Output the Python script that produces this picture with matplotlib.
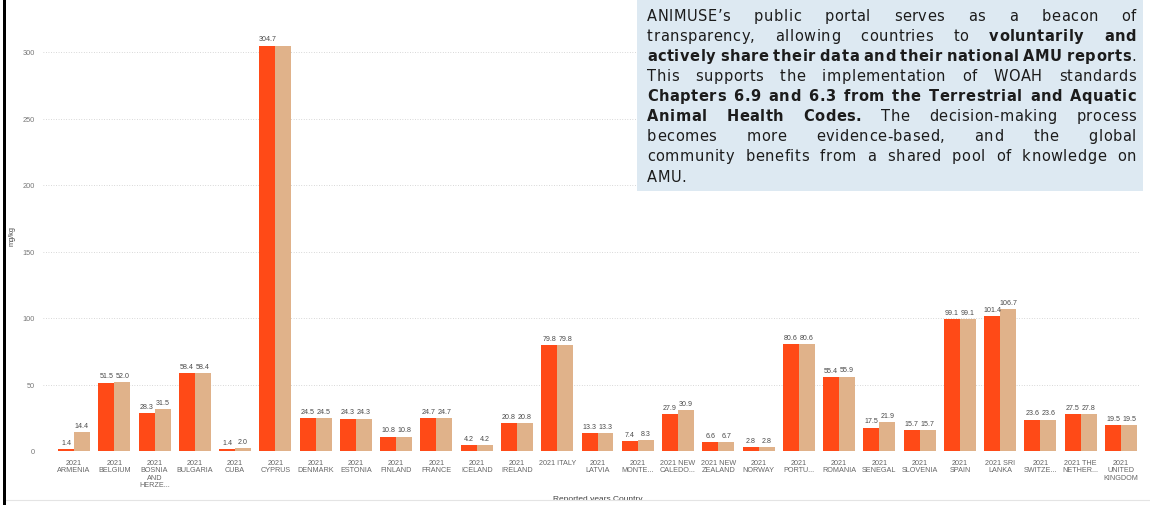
import matplotlib
matplotlib.use("Agg")
import matplotlib.pyplot as plt
from matplotlib.patches import Rectangle
from matplotlib.lines import Line2D
import numpy as np

# ---- data -------------------------------------------------------------
countries = [
    "2021\nARMENIA", "2021\nBELGIUM", "2021\nBOSNIA\nAND\nHERZE...", "2021\nBULGARIA",
    "2021\nCUBA", "2021\nCYPRUS", "2021\nDENMARK", "2021\nESTONIA", "2021\nFINLAND",
    "2021\nFRANCE", "2021\nICELAND", "2021\nIRELAND", "2021 ITALY", "2021\nLATVIA",
    "2021\nMONTE...", "2021 NEW\nCALEDO...", "2021 NEW\nZEALAND", "2021\nNORWAY",
    "2021\nPORTU...", "2021\nROMANIA", "2021\nSENEGAL", "2021\nSLOVENIA", "2021\nSPAIN",
    "2021 SRI\nLANKA", "2021\nSWITZE...", "2021 THE\nNETHER...", "2021\nUNITED\nKINGDOM",
]
series_a = [1.4, 51.5, 28.3, 58.4, 1.4, 304.7, 24.5, 24.3, 10.8, 24.7, 4.2, 20.8, 79.8,
            13.3, 7.4, 27.9, 6.6, 2.8, 80.6, 55.4, 17.5, 15.7, 99.1, 101.4, 23.6, 27.5, 19.5]
series_b = [14.4, 52.0, 31.5, 58.4, 2.0, 304.7, 24.5, 24.3, 10.8, 24.7, 4.2, 20.8, 79.8,
            13.3, 8.3, 30.9, 6.7, 2.8, 80.6, 55.9, 21.9, 15.7, 99.1, 106.7, 23.6, 27.8, 19.5]
# second-series labels that do not fit above the plot area
hidden_b_labels = [5]
y_ticks = [0, 50, 100, 150, 200, 250, 300]

note_lines = [
    [("ANIMUSE\u2019s public portal serves as a beacon of", False)],
    [("transparency, allowing countries to ", False), ("voluntarily and", True)],
    [("actively share their data and their national AMU reports", True), (".", False)],
    [("This supports the implementation of WOAH standards", False)],
    [("Chapters 6.9 and 6.3 from the Terrestrial and Aquatic", True)],
    [("Animal Health Codes.", True), (" The decision-making process", False)],
    [("becomes more evidence-based, and the global", False)],
    [("community benefits from a shared pool of knowledge on", False)],
    [("AMU.", False)],
]

# ---- styling ----------------------------------------------------------
W, H = 1150, 506
ORANGE = "#FF4A17"
TAN = "#E0B28A"
CHART_FONT = "Liberation Sans"
NOTE_FONT = "DejaVu Sans"
NOTE_SIZE = 10.5


def fx(px):
    return px / W


def fy(py):
    return 1 - py / H


fig = plt.figure(figsize=(W / 100, H / 100), dpi=100)
fig.patch.set_facecolor("white")

# plot area in pixel terms
ax_left, ax_right, ax_bottom = 43, 1140, 452
y_top = 320
px_per_unit = 1.33
ax_top = ax_bottom - y_top * px_per_unit
ax = fig.add_axes([fx(ax_left), fy(ax_bottom), (ax_right - ax_left) / W,
                   (ax_bottom - ax_top) / H])
ax.set_facecolor("none")

x = np.arange(len(countries))
step = 40.27
first_center = 74
ax.set_xlim((ax_left - first_center) / step, (ax_right - first_center) / step)
ax.set_ylim(0, y_top)

bw = 0.397
ax.bar(x - bw / 2, series_a, bw, color=ORANGE, linewidth=0, zorder=2)
ax.bar(x + bw / 2, series_b, bw, color=TAN, linewidth=0, zorder=2)

for i, (va_, vb_) in enumerate(zip(series_a, series_b)):
    ax.annotate(f"{va_:.1f}", (x[i] - bw / 2, va_), xytext=(0, 3.8),
                textcoords="offset points", ha="center", va="baseline",
                fontsize=5.1, color="#4a4a4a", family=CHART_FONT, zorder=3)
    if i not in hidden_b_labels:
        ax.annotate(f"{vb_:.1f}", (x[i] + bw / 2, vb_), xytext=(0, 3.8),
                    textcoords="offset points", ha="center", va="baseline",
                    fontsize=5.1, color="#4a4a4a", family=CHART_FONT, zorder=3)

ax.set_yticks(y_ticks)
ax.set_yticklabels([str(t) for t in y_ticks])
ax.set_xticks(x)
ax.set_xticklabels(countries, linespacing=1.1, ha="center", multialignment="center")
ax.tick_params(axis="x", length=0, pad=5.6, labelsize=5.2, labelcolor="#666666")
ax.tick_params(axis="y", length=0, pad=5.8, labelsize=5.3, labelcolor="#777777")
for lbl in ax.get_xticklabels() + ax.get_yticklabels():
    lbl.set_family(CHART_FONT)

ax.yaxis.grid(True, linestyle=(0, (0.8, 1.8)), linewidth=0.7, color="#cfcfcf")
ax.set_axisbelow(True)
for s in ax.spines.values():
    s.set_visible(False)

# axis titles
fig.text(fx(12), fy(236), "mg/kg", rotation=90, ha="center", va="center",
         fontsize=5.3, color="#444444", family=CHART_FONT)
fig.text(fx(598), fy(501.3), "Reported years Country", ha="center", va="baseline",
         fontsize=6.0, color="#444444", family=CHART_FONT, zorder=3)

# frame: bottom strip, divider line and left border
fig.patches.append(Rectangle((fx(5.5), 0), 1, fy(500.5), transform=fig.transFigure,
                             facecolor="white", edgecolor="none", zorder=10))
fig.lines.append(Line2D([fx(5.5), 1], [fy(500.7), fy(500.7)], transform=fig.transFigure,
                        color="#e4e4e4", linewidth=0.8, zorder=11))
fig.patches.append(Rectangle((fx(2.5), 0), 3 / W, 1, transform=fig.transFigure,
                             facecolor="black", edgecolor="none", zorder=11))

# ---- note box with justified, letter-spaced text ----------------------
box_x0, box_x1, box_y1 = 637, 1143, 192
fig.patches.append(Rectangle((fx(box_x0), fy(box_y1)), (box_x1 - box_x0) / W, box_y1 / H,
                             transform=fig.transFigure, facecolor="#DDE9F2",
                             edgecolor="none", zorder=5))

text_x0, text_x1 = 647, 1136
baseline0, line_step = 20.7, 20.1
avail = text_x1 - text_x0


def split_words(chunks):
    words = [[]]
    for text, bold in chunks:
        parts = text.split(" ")
        for k, part in enumerate(parts):
            if k > 0:
                words.append([])
            if part:
                words[-1].append((part, bold))
    return [w for w in words if w]


renderer = fig.canvas.get_renderer()


def text_width(s, bold):
    t = fig.text(0, 0, s, fontsize=NOTE_SIZE, family=NOTE_FONT,
                 fontweight="bold" if bold else "normal")
    w = t.get_window_extent(renderer).width
    t.remove()
    return w


_adv = {}


def advance(c, bold):
    # pen advance of one glyph, taken between two reference glyphs
    key = (c, bold)
    if key not in _adv:
        _adv[key] = text_width("n" + c + "n", bold) - text_width("nn", bold)
    return _adv[key]


line_words = [split_words(ch) for ch in note_lines]
space = advance(" ", False)


def chars_of(word):
    return [(c, b) for s, b in word for c in s]


# tracking chosen so the densest bold line fills the column with plain spaces
dense = line_words[2]
dense_chars = sum(len(chars_of(w)) for w in dense)
dense_nat = sum(advance(c, b) for w in dense for c, b in chars_of(w)) + space * (len(dense) - 1)
tracking = max(0.0, (avail - dense_nat) / (dense_chars - len(dense)))

for li, words in enumerate(line_words):
    base = baseline0 + li * line_step
    glyphs = [chars_of(w) for w in words]
    widths = [sum(advance(c, b) for c, b in g) + tracking * (len(g) - 1) for g in glyphs]
    last = li == len(line_words) - 1
    gap = space + tracking if (last or len(words) < 2) else (avail - sum(widths)) / (len(words) - 1)
    cx = text_x0
    for g, wd in zip(glyphs, widths):
        px = cx
        for c, b in g:
            fig.text(fx(px), fy(base), c, fontsize=NOTE_SIZE, family=NOTE_FONT,
                     fontweight="bold" if b else "normal", color="#1c1c1c",
                     ha="left", va="baseline", zorder=6)
            px += advance(c, b) + tracking
        cx += wd + gap

fig.savefig("out.png", dpi=100)
